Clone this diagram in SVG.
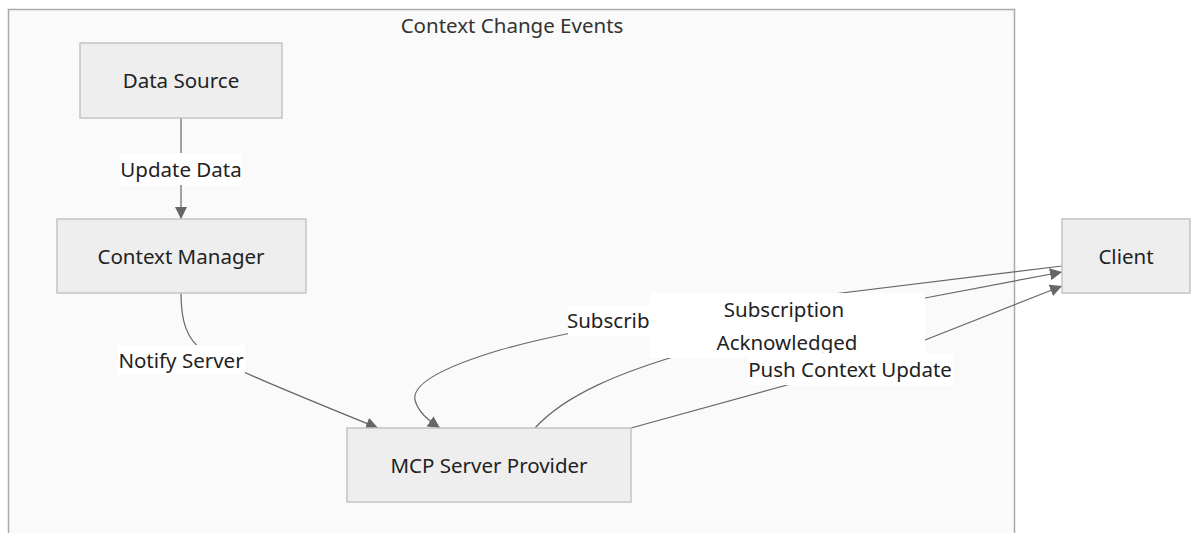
<svg xmlns="http://www.w3.org/2000/svg" width="1200" height="533" viewBox="0 0 1200 533">
<style>
.node rect{fill:#eeeeee;stroke:#c4c4c4;stroke-width:1.5}
.cluster rect{fill:#fafafa;stroke:#aaaaaa;stroke-width:1.5}
text{font-family:"Noto Sans","Open Sans",sans-serif;font-size:20.5px;fill:#222;text-anchor:middle;dominant-baseline:central}
.title{fill:#333}
.edge{fill:none;stroke:#666;stroke-width:1.2}
.lbg{fill:#ffffff}
</style>
<defs>
<marker id="ah" viewBox="0 0 10 10" refX="10" refY="5" markerUnits="userSpaceOnUse" markerWidth="12" markerHeight="12" orient="auto">
<path d="M0,0 L10,5 L0,10 z" fill="#666"/>
</marker>
</defs>
<rect x="0" y="0" width="1200" height="533" fill="#ffffff"/>
<g id="cluster-context-change-events" class="cluster">
<rect x="8.5" y="9.5" width="1006" height="540"/>
<text class="title" x="512" y="25">Context Change Events</text>
</g>
<g id="connectors">
<path class="edge" d="M181,118 L181,219" marker-end="url(#ah)"/>
<path class="edge" d="M181,293 C181,320 186,340 205,352 C225,365 260,380 378,428" marker-end="url(#ah)"/>
<path class="edge" d="M1062,266 L760,303 C650,317 560,333 500,350 C440,368 412,385 415,400 C418,412 428,420 440,428" marker-end="url(#ah)"/>
<path class="edge" d="M535,428 C565,395 620,372 690,352 C760,332 850,312 925,298 L1062,272" marker-end="url(#ah)"/>
<path class="edge" d="M631,428 L787,385 C830,373 880,358 925,340 L1062,286" marker-end="url(#ah)"/>
</g>
<g id="edge-labels">
<g id="label-update-data"><rect class="lbg" x="120" y="153" width="122" height="32"/><text x="181" y="169">Update Data</text></g>
<g id="label-notify-server"><rect class="lbg" x="117" y="345" width="128" height="30"/><text x="181" y="360">Notify Server</text></g>
<g id="label-subscribe"><rect class="lbg" x="568" y="305" width="92" height="31"/><text x="614" y="320">Subscribe</text></g>
<g id="label-subscription-ack"><rect class="lbg" x="650" y="293" width="275" height="65"/><text x="784" y="309">Subscription</text><text x="787" y="342">Acknowledged</text></g>
<g id="label-push"><rect class="lbg" x="748" y="353" width="205" height="32"/><text x="850" y="369">Push Context Update</text></g>
</g>
<g id="node-data-source" class="node"><rect x="80" y="43" width="202" height="75"/><text x="181" y="80">Data Source</text></g>
<g id="node-context-manager" class="node"><rect x="57" y="219" width="249" height="74"/><text x="181" y="256">Context Manager</text></g>
<g id="node-mcp-server" class="node"><rect x="347" y="428" width="284" height="74"/><text x="489" y="465">MCP Server Provider</text></g>
<g id="node-client" class="node"><rect x="1062" y="219" width="128" height="74"/><text x="1126" y="256">Client</text></g>
</svg>
